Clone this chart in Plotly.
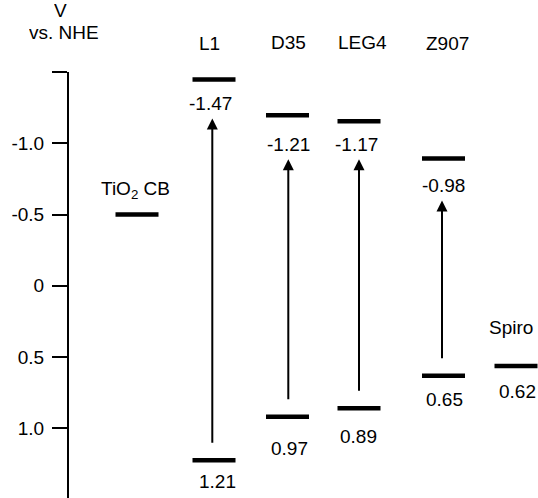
import plotly.graph_objects as go

# ---------------- data (values as drawn on the V vs. NHE axis) ----------------
species = ["L1", "D35", "LEG4", "Z907"]
lumo_pos = [-1.449, -1.198, -1.156, -0.894]
homo_pos = [1.225, 0.919, 0.860, 0.631]
lumo_labels = ["-1.47", "-1.21", "-1.17", "-0.98"]
homo_labels = ["1.21", "0.97", "0.89", "0.65"]
tio2_cb_pos = -0.501
tio2_label = "TiO<sub>2</sub> CB"
spiro_pos = 0.563
spiro_name = "Spiro"
spiro_label = "0.62"
tick_vals = [-1.5, -1.0, -0.5, 0, 0.5, 1.0]
tick_text = ["", "-1.0", "-0.5", "0", "0.5", "1.0"]
axis_title_lines = ["V", "vs. NHE"]

# ---------------- layout / style ----------------
FONT = dict(family="Liberation Sans, Arial, sans-serif", size=19, color="black")
col_x = [214, 287.5, 359, 443.5]
tio2_x = 137
spiro_x = 516
HALF = 21.5
LEVEL_W = 4.5
header_x = [209, 288, 362, 447]
header_px = [43, 42, 42, 43]          # vertical centre (px from top)
title_x_px = [60, 64]
title_y_px = [10, 32]
lumo_lab_dx = [-4, 1, -2.5, -0.5]
lumo_lab_off = [24, 29, 23, 27]       # px below level
homo_lab_dx = [3.5, 2, -1, 1]
homo_lab_off = [21, 32, 28, 24]
arrow_x = [212.3, 288.3, 359, 442]
TOP_MARGIN = 72
LEFT_MARGIN = 69

fig = go.Figure()


def level(x, y):
    fig.add_trace(go.Scatter(x=[x - HALF, x + HALF], y=[y, y], mode="lines",
                             line=dict(color="black", width=LEVEL_W),
                             hoverinfo="skip", showlegend=False))


level(tio2_x, tio2_cb_pos)
for i in range(len(species)):
    level(col_x[i], lumo_pos[i])
    level(col_x[i], homo_pos[i])
level(spiro_x, spiro_pos)

ann = []


def txt(text, x, y, yshift=0, yref="y", xshift=0, xref="x", **kw):
    d = dict(text=text, x=x, y=y, xref=xref, yref=yref, showarrow=False,
             xanchor="center", yanchor="middle", yshift=yshift,
             xshift=xshift, font=FONT)
    d.update(kw)
    ann.append(d)


# axis title (in the margin, paper coordinates)
for t, xp, yp in zip(axis_title_lines, title_x_px, title_y_px):
    txt(t, 0, 1, xref="paper", yref="paper", xshift=xp - LEFT_MARGIN,
        yshift=TOP_MARGIN - yp, height=14, borderpad=0, valign="middle")

for i, s in enumerate(species):
    txt(s, header_x[i], 1, yshift=TOP_MARGIN - header_px[i], yref="paper")

for i in range(len(species)):
    txt(lumo_labels[i], col_x[i], lumo_pos[i], yshift=-lumo_lab_off[i], xshift=lumo_lab_dx[i])
    txt(homo_labels[i], col_x[i], homo_pos[i], yshift=-homo_lab_off[i], xshift=homo_lab_dx[i])
    ann.append(dict(x=arrow_x[i], y=lumo_pos[i], ax=arrow_x[i], ay=homo_pos[i],
                    xref="x", yref="y", axref="x", ayref="y", text="",
                    showarrow=True, arrowhead=2, arrowsize=1.1, arrowwidth=2,
                    arrowcolor="black", standoff=lumo_lab_off[i] + 15,
                    startstandoff=16))

txt(tio2_label, tio2_x - 2, tio2_cb_pos, yshift=24)
txt(spiro_name, spiro_x - 5.5, spiro_pos, yshift=39)
txt(spiro_label, spiro_x + 1, spiro_pos, yshift=-25)

fig.update_layout(
    width=538, height=498,
    margin=dict(l=LEFT_MARGIN, r=0, t=TOP_MARGIN, b=0),
    paper_bgcolor="white", plot_bgcolor="white",
    font=FONT,
    annotations=ann,
    xaxis=dict(range=[69, 538], visible=False, fixedrange=True),
    yaxis=dict(range=[-1.5 + 426 / 142.5, -1.501], tickvals=tick_vals,
               ticktext=tick_text, showline=True, linewidth=2, linecolor="black",
               ticks="outside", ticklen=15, tickwidth=2, tickcolor="black",
               showgrid=False, zeroline=False, tickfont=FONT,
               ticklabelstandoff=4, fixedrange=True),
)

fig.write_html("out.html")
